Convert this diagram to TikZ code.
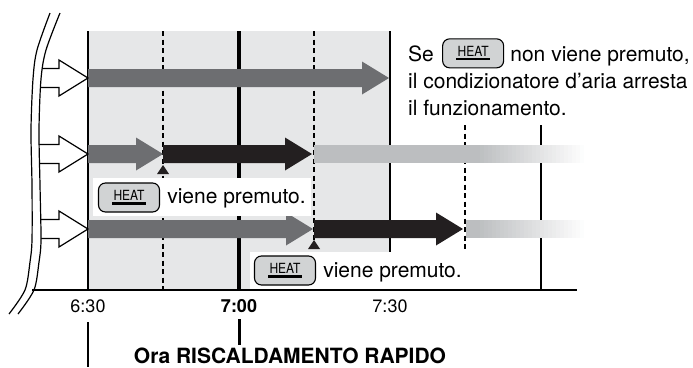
\documentclass[tikz,border=0pt]{standalone}
\usepackage{fontspec}
\setmainfont{TeX Gyre Heros}
\usepackage{graphicx}
\usetikzlibrary{positioning,calc}
\definecolor{zonegray}{HTML}{E6E7E8}
\definecolor{bardark}{HTML}{6D6E71}
\definecolor{barblack}{HTML}{231F20}
\definecolor{barlight}{HTML}{BCBEC0}
\definecolor{keyfill}{HTML}{D1D3D4}
\newcommand{\heatword}{\vbox{\hbox{\kern1.5pt\scalebox{0.86}[1]{\fontsize{14}{14}\selectfont HEAT}\kern1.5pt}\kern1.8pt\hrule height 2.2pt}}
\tikzset{
  heatkey/.style={draw, line width=1.1pt, rounded corners=7pt, fill=keyfill,
    minimum width=61pt, minimum height=29pt, inner sep=0pt},
  note/.style={font=\fontsize{21}{27}\selectfont, inner sep=0pt, anchor=base west},
  timelbl/.style={font=\fontsize{18}{20}\selectfont, inner sep=0pt, anchor=base},
  gridline/.style={line width=1.2pt},
  dashline/.style={line width=1.1pt, dash pattern=on 5pt off 3.5pt},
  outline/.style={line width=1.2pt}
}

\begin{document}
\begin{tikzpicture}[x=1pt, y=-1pt, line join=miter]
\useasboundingbox (0,0) rectangle (693,367);
\def\bh{9}
\def\hh{16.5}
\def\hl{27}
% heating zone and time marks
\fill[zonegray] (88,31) rectangle (390,290);
\foreach \x in {88,390} \draw[gridline] (\x,31) -- (\x,290);
\foreach \x in {163,314} \draw[dashline] (\x,31) -- (\x,290);
\draw[line width=3.8pt] (239,31) -- (239,290);
\draw[dashline] (465,125) -- (465,290);
\draw[gridline] (541,125) -- (541,290);
% bars
\foreach \xa/\xb/\y/\col in {88/389/78/bardark, 88/163/154/bardark, 163/312/154/barblack,
    88/313/229/bardark, 314/463/229/barblack}{
  \fill[\col] (\xa,\y-\bh) -- (\xb-\hl,\y-\bh) -- (\xb-\hl,\y-\hh) -- (\xb,\y)
    -- (\xb-\hl,\y+\hh) -- (\xb-\hl,\y+\bh) -- (\xa,\y+\bh) -- cycle;
}
% fading bars
\foreach \xa/\y in {314/154, 466/229}{
  \fill[barlight] (\xa,\y-\bh) rectangle (476,\y+\bh);
  \foreach \i in {0,...,27}{
    \pgfmathsetmacro\pc{100-\i*100/27}
    \fill[barlight!\pc!white] (475.5+\i*4,\y-\bh) rectangle (480+\i*4,\y+\bh);
  }
}
% incoming arrows and break
\foreach \y in {78,154,229}{
  \filldraw[outline, fill=white] (36,\y-9.5) -- (59,\y-9.5) -- (59,\y-18) -- (88,\y)
    -- (59,\y+18) -- (59,\y+9.5) -- (36,\y+9.5);
}
\fill[white] plot[smooth] coordinates {(50,13) (37,50) (33,79) (31,130) (32,185) (32,240) (30,262) (25,290) (9,314)}
  -- plot[smooth] coordinates {(18,314) (34,290) (39,262) (41,240) (40,185) (39,130) (41,79) (46,50) (60,13)} -- cycle;
\draw[outline] plot[smooth] coordinates {(50,13) (37,50) (33,79) (31,130) (32,185) (32,240) (30,262) (25,290) (9,314)};
\draw[outline] plot[smooth] coordinates {(60,13) (46,50) (41,79) (39,130) (40,185) (41,240) (39,262) (34,290) (18,314)};
% labels in the chart
\fill[white] (93,178) rectangle (311,216);
\node[heatkey] (key2) at (129,197.5) {\heatword};
\node[note] (msg2) at ([xshift=7pt]key2.east |- 0,203) {viene premuto.};
\fill[white] (250,252) rectangle (473,289.4);
\node[heatkey] (key3) at (285,270.5) {\heatword};
\node[note] (msg3) at ([xshift=7pt]key3.east |- 0,277) {viene premuto.};
\foreach \x/\y in {163/165, 314/240}{
  \fill[barblack] (\x,\y) -- (\x-6,\y+9) -- (\x+6,\y+9) -- cycle;
}
\draw[outline] (32,290) -- (577,290);
% note top right
\node[note] (se) at (408,61) {Se};
\node[heatkey, right=8pt of se] (key1) {\heatword};
\node[note] (nvp) at ([xshift=6pt]key1.east |- se.base) {non viene premuto,};
\node[note] (cond) at (408,88) {il condizionatore d’aria arresta};
\node[note] (funz) at (408,115) {il funzionamento.};
% time axis
\node[timelbl] (l630) at (88,312) {6:30};
\node[timelbl, font=\fontsize{18}{20}\selectfont\bfseries] (l700) at (239,312) {7:00};
\node[timelbl] (l730) at (390,312) {7:30};
\node[font=\fontsize{21}{24}\selectfont\bfseries, anchor=base, inner sep=0pt] (ora) at (290,363) {Ora RISCALDAMENTO RAPIDO};
\draw[gridline] (88,322) -- (88,367);
\draw[line width=3pt] (239,319) -- (239,345);
\end{tikzpicture}
\end{document}
